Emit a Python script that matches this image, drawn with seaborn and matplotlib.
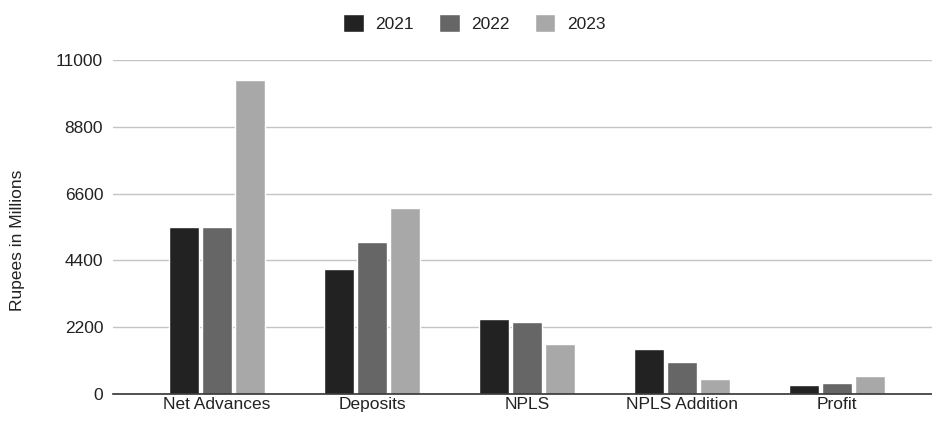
import matplotlib
matplotlib.use("Agg")
import matplotlib.pyplot as plt
import seaborn as sns
import pandas as pd

categories = ["Net Advances", "Deposits", "NPLS", "NPLS Addition", "Profit"]
years = ["2021", "2022", "2023"]
values_2021 = [5500, 4130, 2480, 1480, 300]
values_2022 = [5500, 4990, 2360, 1060, 350]
values_2023 = [10350, 6140, 1660, 490, 600]
y_ticks = [0, 2200, 4400, 6600, 8800, 11000]

df = pd.DataFrame({
    "Category": categories * 3,
    "Year": [years[0]] * 5 + [years[1]] * 5 + [years[2]] * 5,
    "Value": values_2021 + values_2022 + values_2023,
})

sns.set_theme(style="white")
plt.rcParams["font.family"] = ["Liberation Sans", "DejaVu Sans"]
FS = 12.5

fig = plt.figure(figsize=(9.32, 4.21), dpi=100)
ax = fig.add_axes([0.1212, 0.0641, 0.8788, 0.7934])

palette = {"2021": "#222222", "2022": "#666666", "2023": "#a8a8a8"}
sns.barplot(data=df, x="Category", y="Value", hue="Year", order=categories,
            hue_order=years, palette=palette, width=0.632, gap=0.08,
            saturation=1, ax=ax, zorder=3)

ax.set_ylim(0, 11000)
ax.set_xlim(-0.671, 4.613)
ax.set_yticks(y_ticks)
ax.set_yticklabels([str(t) for t in y_ticks])
ax.yaxis.grid(True, color="#c4c4c4", linewidth=1.0, zorder=0)
ax.set_axisbelow(True)
for s in ["top", "right", "left"]:
    ax.spines[s].set_visible(False)
ax.spines["bottom"].set_color("#333333")
ax.spines["bottom"].set_linewidth(1.2)
ax.spines["bottom"].set_zorder(4)
ax.tick_params(axis="both", length=0, labelsize=FS, colors="#222222")
ax.tick_params(axis="x", pad=2)
ax.tick_params(axis="y", pad=7)
ax.set_xlabel("")
ax.set_ylabel("Rupees in Millions", fontsize=FS, color="#222222")
ax.yaxis.label.set_verticalalignment("center")
ax.yaxis.set_label_coords(18 / 932, 1 - 240 / 421, transform=fig.transFigure)

leg = ax.legend(loc="center", bbox_to_anchor=(474 / 932, 1 - 23 / 421),
                bbox_transform=fig.transFigure, ncol=3, frameon=False,
                handlelength=1.2, handleheight=1.2, columnspacing=1.45,
                handletextpad=0.65, fontsize=FS, borderaxespad=0, borderpad=0)
for t in leg.get_texts():
    t.set_color("#222222")

fig.savefig("out.png", dpi=100, facecolor="white")
